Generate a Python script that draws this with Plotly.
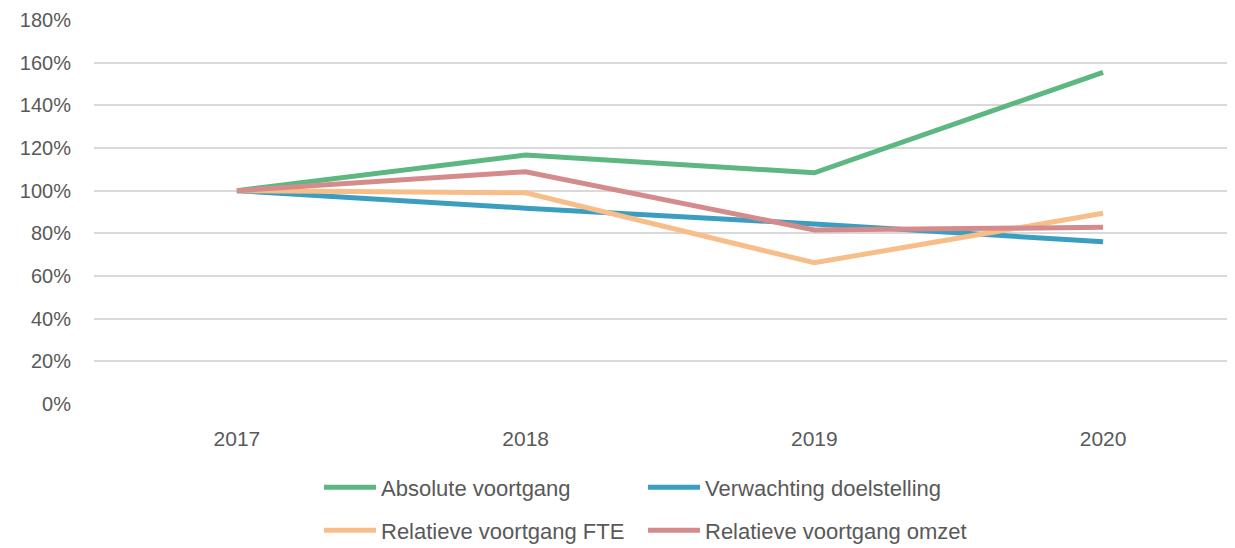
import plotly.graph_objects as go

years = ["2017", "2018", "2019", "2020"]
absolute = [100, 116.7, 108.4, 155.5]
verwachting = [100, 91.8, 84.4, 76.0]
rel_fte = [100, 99.0, 66.2, 89.4]
rel_omzet = [100, 108.9, 81.6, 82.8]

names = ["Absolute voortgang", "Verwachting doelstelling",
         "Relatieve voortgang FTE", "Relatieve voortgang omzet"]
colors = ["#5CB880", "#3B9EC0", "#F8BE8A", "#D58B8B"]
series = [absolute, verwachting, rel_fte, rel_omzet]
legends = ["legend", "legend", "legend2", "legend2"]

x_idx = list(range(len(years)))
fig = go.Figure()
for n, c, s, lg in zip(names, colors, series, legends):
    fig.add_trace(go.Scatter(x=x_idx, y=s, name=n, mode="lines",
                             line=dict(color=c, width=5), legend=lg))

# page body has an 8px margin: figure occupies viewport (8..1235, 8..548)
W, H = 1227, 540
ML, MT, MB = 86, 12, 144
plot_w = W - ML
plot_h = H - MT - MB
bottom = H - MB

font = dict(family="Liberation Sans", size=20, color="#595959")
leg_common = dict(orientation="h", xanchor="left", yanchor="middle",
                  entrywidth=257, entrywidthmode="pixels", itemwidth=52,
                  font=dict(family="Liberation Sans", size=22, color="#595959"),
                  bgcolor="rgba(0,0,0,0)", borderwidth=0)
lx = (311 - ML) / plot_w
fig.update_layout(
    width=W, height=H,
    margin=dict(l=ML, r=0, t=MT, b=MB, autoexpand=False),
    paper_bgcolor="white", plot_bgcolor="white",
    font=font,
    showlegend=True,
    legend=dict(x=lx, y=-(479.5 - bottom) / plot_h, **leg_common),
    legend2=dict(x=lx, y=-(522.5 - bottom) / plot_h, **leg_common),
    xaxis=dict(range=[-0.495, 3.457], tickvals=x_idx, ticktext=years,
               showgrid=False, zeroline=False, showline=False,
               ticks="", ticklabelstandoff=20,
               tickfont=dict(family="Liberation Sans", size=21, color="#595959")),
    yaxis=dict(range=[0, 180], dtick=20, ticksuffix="%",
               showgrid=True, gridcolor="#D9D9D9", gridwidth=1.5,
               zeroline=False, showline=False, ticks="",
               ticklabelstandoff=22),
)
fig.write_html("out.html")
